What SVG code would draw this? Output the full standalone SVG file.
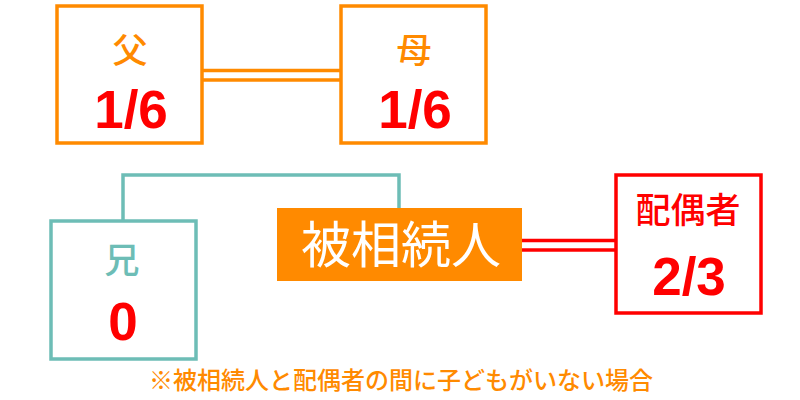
<svg xmlns="http://www.w3.org/2000/svg" width="800" height="400" viewBox="0 0 800 400">
<style>
.box{fill:#fff;stroke-width:3.5}
.or{stroke:#FF8A00}
.tl{stroke:#6DBDB6}
.rd{stroke:#FF0000}
.lbl{font-family:"Noto Sans CJK JP","Noto Sans",sans-serif;font-size:35px;font-weight:500;text-anchor:middle}
.num{font-family:"Liberation Sans",Arial,sans-serif;font-weight:bold;font-size:53px;fill:#FF0000;text-anchor:middle}
.ln{fill:none;stroke-width:3.5}
</style>
<rect width="800" height="400" fill="#fff"/>
<g id="connectors">
<line class="ln or" x1="202" y1="70.5" x2="341" y2="70.5"/>
<line class="ln or" x1="202" y1="80" x2="341" y2="80"/>
<polyline class="ln tl" points="123,221 123,175 399,175 399,208"/>
<line class="ln rd" x1="522" y1="240.5" x2="616" y2="240.5"/>
<line class="ln rd" x1="522" y1="250" x2="616" y2="250"/>
</g>
<g id="father">
<rect class="box or" x="57" y="6" width="145" height="137"/>
<text class="lbl" x="130" y="63" fill="#FF8A00">父</text>
<text class="num" x="131" y="128">1/6</text>
</g>
<g id="mother">
<rect class="box or" x="341" y="6" width="145" height="137"/>
<text class="lbl" x="414" y="63" fill="#FF8A00">母</text>
<text class="num" x="415" y="128">1/6</text>
</g>
<g id="brother">
<rect class="box tl" x="51" y="221" width="145" height="138"/>
<text class="lbl" x="122" y="273" fill="#6DBDB6">兄</text>
<text class="num" x="123" y="340">0</text>
</g>
<g id="deceased">
<rect x="277" y="208" width="245" height="73" fill="#FF8A00"/>
<text x="401" y="263" font-family="Noto Sans CJK JP,Noto Sans,sans-serif" font-size="50" fill="#fff" text-anchor="middle">被相続人</text>
</g>
<g id="spouse">
<rect class="box rd" x="616" y="175" width="145" height="138"/>
<text class="lbl" x="688" y="223" fill="#FF0000">配偶者</text>
<text class="num" x="689" y="295">2/3</text>
</g>
<text x="401" y="389" font-family="Noto Sans CJK JP,Noto Sans,sans-serif" font-size="24" font-weight="500" fill="#FF8A00" text-anchor="middle">※被相続人と配偶者の間に子どもがいない場合</text>
</svg>
